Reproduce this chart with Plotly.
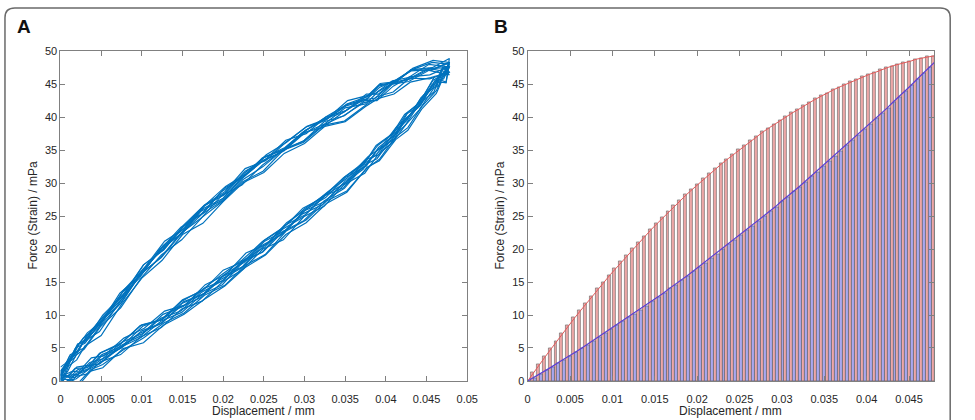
import plotly.graph_objects as go

# ---------------- Panel A: hysteresis loops ----------------
A_UP_X = [0, 0.001, 0.002, 0.003, 0.005, 0.0075, 0.01, 0.0125, 0.015, 0.0175, 0.02, 0.0225,
          0.025, 0.0275, 0.03, 0.0325, 0.035, 0.0375, 0.039, 0.041, 0.043, 0.0455, 0.0478]
A_UP_Y = [0.5, 2.8, 4.5, 5.9, 8.6, 12.5, 16.3, 19.7, 22.7, 25.5, 28.2, 30.8,
          33.1, 35.3, 37.3, 39.2, 40.9, 42.5, 43.6, 45.0, 46.2, 47.2, 47.6]
A_DN_X = [0.0478, 0.0472, 0.0466, 0.046, 0.0442, 0.0425, 0.041, 0.039, 0.0375, 0.035, 0.0325,
          0.03, 0.0275, 0.025, 0.0225, 0.02, 0.0175, 0.015, 0.0125, 0.01, 0.0075, 0.005,
          0.0035, 0.002, 0.001, 0]
A_DN_Y = [47.4, 46.6, 45.8, 44.9, 42.0, 39.5, 37.2, 34.6, 32.8, 30.0, 27.6,
          25.3, 22.8, 20.3, 17.9, 15.5, 13.3, 11.2, 9.2, 7.3, 5.3, 3.3,
          2.1, 0.9, 0.3, 0.2]
A_UP_JITTER = [0.3, -0.4, 0.6, -0.2, 0.5, -0.6, 0.2, 0.4, -0.3, 0.6, -0.5, 0.1,
               0.4, -0.4, 0.3, -0.2, 0.5, -0.5, 0.2, 0.3, -0.4, 0.2, -0.1]
A_DN_JITTER = [-0.1, 0.3, -0.5, 0.6, -0.3, 0.4, -0.6, 0.5, -0.2, 0.3, -0.4, 0.5, -0.3,
               0.2, -0.5, 0.4, -0.2, 0.6, -0.4, 0.3, -0.3, 0.4, -0.2, 0.3, -0.1, 0.1]
A_CYCLE_UP_SHIFT = [0.0, 0.7, -0.6, 1.0, -0.9, 0.4, -0.3, 0.8, -1.1, 0.2, 0.5, -0.5]
A_CYCLE_DN_SHIFT = [0.0, -0.7, 0.5, 0.9, -0.8, 0.3, -0.4, -1.0, 0.7, -0.2, 0.4, -0.5]
A_CYCLE_X_SHIFT = [0.0, 0.0002, -0.0002, 0.0003, -0.0001, 0.0001, -0.0003, 0.0002, 0.0, -0.0002,
                   0.0001, -0.0001]

# ---------------- Panel B: bar pairs under loading / unloading curves ----------------
B_X_MAX = 0.048
B_N = 70
B_TOP = [0, 1.3, 2.5, 3.7, 4.9, 6.1, 7.3, 8.4, 9.6, 10.7, 11.8, 12.9, 14.0, 15.0, 16.1, 17.1,
         18.1, 19.1, 20.1, 21.1, 22.0, 23.0, 23.9, 24.8, 25.7, 26.6, 27.4, 28.3, 29.1, 29.9,
         30.7, 31.5, 32.2, 33.0, 33.7, 34.4, 35.1, 35.8, 36.5, 37.1, 37.8, 38.4, 39.0, 39.6,
         40.1, 40.7, 41.2, 41.8, 42.3, 42.8, 43.3, 43.7, 44.2, 44.6, 45.0, 45.4, 45.8, 46.2,
         46.5, 46.8, 47.2, 47.5, 47.8, 48.0, 48.3, 48.5, 48.8, 49.0, 49.2, 49.3]
B_BOT = [0, 0.5, 1.0, 1.6, 2.1, 2.7, 3.2, 3.8, 4.3, 4.9, 5.5, 6.0, 6.6, 7.2, 7.8, 8.4,
         9.0, 9.6, 10.2, 10.8, 11.4, 12.1, 12.7, 13.3, 14.0, 14.6, 15.3, 15.9, 16.6, 17.3,
         17.9, 18.6, 19.3, 20.0, 20.7, 21.4, 22.1, 22.8, 23.5, 24.2, 25.0, 25.7, 26.4, 27.2,
         27.9, 28.7, 29.4, 30.2, 31.0, 31.7, 32.5, 33.3, 34.1, 34.9, 35.7, 36.5, 37.3, 38.1,
         38.9, 39.8, 40.6, 41.4, 42.3, 43.1, 44.0, 44.8, 45.7, 46.6, 47.5, 48.3]

# ---------------- tick labels ----------------
A_XTICKS = [0, 0.005, 0.01, 0.015, 0.02, 0.025, 0.03, 0.035, 0.04, 0.045, 0.05]
A_XTICKTEXT = ["0", "0.005", "0.01", "0.015", "0.02", "0.025", "0.03", "0.035", "0.04", "0.045", "0.05"]
B_XTICKS = A_XTICKS[:-1]
B_XTICKTEXT = A_XTICKTEXT[:-1]
YTICKS = [0, 5, 10, 15, 20, 25, 30, 35, 40, 45, 50]

FONT = "Liberation Sans, Arial, Helvetica, sans-serif"
LINE_BLUE = "#0072BD"

fig = go.Figure()

n_up, n_dn = len(A_UP_X), len(A_DN_X)
for k in range(len(A_CYCLE_UP_SHIFT)):
    xs, ys = [], []
    for i in range(n_up):
        j = (i + 3 * k) % n_up
        xs.append(A_UP_X[i] + (A_CYCLE_X_SHIFT[k] if 0 < i < n_up - 1 else 0))
        ys.append(A_UP_Y[i] + A_CYCLE_UP_SHIFT[k] + A_UP_JITTER[j])
    for i in range(1, n_dn):
        j = (i + 5 * k) % n_dn
        xs.append(A_DN_X[i] + (A_CYCLE_X_SHIFT[k] if i < n_dn - 1 else 0))
        ys.append(A_DN_Y[i] + A_CYCLE_DN_SHIFT[k] + A_DN_JITTER[j])
    fig.add_trace(go.Scatter(x=xs, y=ys, mode="lines",
                             line=dict(color=LINE_BLUE, width=1.2),
                             xaxis="x", yaxis="y", showlegend=False, hoverinfo="skip"))

dx = B_X_MAX / (B_N - 1)
fig.add_trace(go.Bar(x0=0, dx=dx, y=B_TOP, marker=dict(color="#eda7a7",
                     line=dict(color="#4a4a4a", width=0.5)),
                     xaxis="x2", yaxis="y2", showlegend=False, hoverinfo="skip"))
fig.add_trace(go.Bar(x0=0, dx=dx, y=B_BOT, marker=dict(color="#a8a8f0",
                     line=dict(color="#4a4a4a", width=0.5)),
                     xaxis="x2", yaxis="y2", showlegend=False, hoverinfo="skip"))
fig.add_trace(go.Scatter(x0=0, dx=dx, y=B_TOP, mode="lines",
                         line=dict(color="#e35b5b", width=1),
                         xaxis="x2", yaxis="y2", showlegend=False, hoverinfo="skip"))
fig.add_trace(go.Scatter(x0=0, dx=dx, y=B_BOT, mode="lines",
                         line=dict(color="#5b3fd6", width=1.2),
                         xaxis="x2", yaxis="y2", showlegend=False, hoverinfo="skip"))

W, H = 975, 420
ax_common = dict(showline=True, linecolor="#808080", linewidth=1, mirror="ticks",
                 ticks="inside", ticklen=5, tickcolor="#808080", tickwidth=1,
                 showgrid=False, zeroline=False,
                 tickfont=dict(family=FONT, size=11, color="#262626"))
yd = [1 - 386 / H, 1 - 46.5 / H]
fig.update_layout(
    width=W, height=H, margin=dict(l=0, r=0, t=0, b=0),
    paper_bgcolor="white", plot_bgcolor="white",
    barmode="group", bargap=0, bargroupgap=0,
    xaxis=dict(domain=[58.3 / W, 471 / W], range=[0, 0.05], tickvals=A_XTICKS,
               ticktext=A_XTICKTEXT, anchor="y", ticklabelstandoff=8, **ax_common),
    yaxis=dict(domain=yd, range=[0, 50], tickvals=YTICKS, anchor="x", **ax_common),
    xaxis2=dict(domain=[532.3 / W, 945 / W], range=[0, B_X_MAX], tickvals=B_XTICKS,
                ticktext=B_XTICKTEXT, anchor="y2", ticklabelstandoff=8, **ax_common),
    yaxis2=dict(domain=yd, range=[0, 50], tickvals=YTICKS, anchor="x2", **ax_common),
)

ann = []
ttl = dict(family=FONT, size=12, color="#262626")
ann.append(dict(text="Displacement / mm", x=264.6 / W, y=1 - 417 / H, xref="paper", yref="paper",
                showarrow=False, font=ttl, xanchor="center", yanchor="middle"))
ann.append(dict(text="Displacement / mm", x=738.6 / W, y=1 - 417 / H, xref="paper", yref="paper",
                showarrow=False, font=ttl, xanchor="center", yanchor="middle"))
ann.append(dict(text="Force (Strain) / mPa", x=30 / W, y=1 - 216 / H, xref="paper", yref="paper",
                showarrow=False, font=ttl, textangle=-90, xanchor="center", yanchor="middle"))
ann.append(dict(text="Force (Strain) / mPa", x=504 / W, y=1 - 216 / H, xref="paper", yref="paper",
                showarrow=False, font=ttl, textangle=-90, xanchor="center", yanchor="middle"))
lab = dict(family=FONT, size=19, color="#111111")
ann.append(dict(text="<b>A</b>", x=21.5 / W, y=1 - 21.5 / H, xref="paper", yref="paper",
                showarrow=False, font=lab, xanchor="center", yanchor="middle"))
ann.append(dict(text="<b>B</b>", x=505 / W, y=1 - 21.5 / H, xref="paper", yref="paper",
                showarrow=False, font=lab, xanchor="center", yanchor="middle"))
fig.update_layout(annotations=ann)

L, R, T, B = 2 / W, 961 / W, 1 - 2 / H, -0.05
rx, ry = 10 / W, 10 / H
path = (f"M {L},{B} L {L},{T - ry} Q {L},{T} {L + rx},{T} L {R - rx},{T} "
        f"Q {R},{T} {R},{T - ry} L {R},{B}")
fig.add_shape(type="path", path=path, xref="paper", yref="paper",
              line=dict(color="#6a6a6a", width=1.5))

fig.write_html("out.html")
